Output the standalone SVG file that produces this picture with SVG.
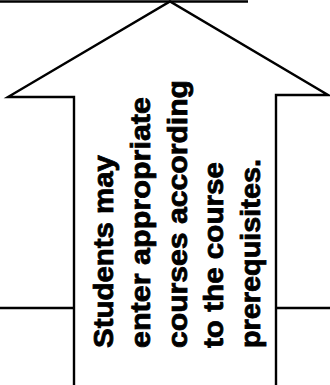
<svg xmlns="http://www.w3.org/2000/svg" width="330" height="385" viewBox="0 0 330 385">
  <style>
    .ln { fill: none; stroke: #000; stroke-width: 2.4; stroke-linejoin: miter; }
    .txt { font-family: "Liberation Sans", Arial, sans-serif; font-weight: bold; font-size: 28.5px; fill: #000; stroke: #000; stroke-width: 0.8; }
  </style>
  <rect x="0" y="0" width="330" height="385" fill="#fff"/>
  <g id="rules">
    <line class="ln" x1="0" y1="1.5" x2="248" y2="1.5"/>
    <line class="ln" x1="0" y1="308" x2="74" y2="308"/>
    <line class="ln" x1="276" y1="308" x2="330" y2="308"/>
  </g>
  <g id="arrow">
    <polyline class="ln" stroke-width="2.8" points="74,386 74,97 8,97 170,1.5 328,95 276,95 276,386"/>
    <g transform="rotate(-90)">
      <text class="txt" x="-348" y="113" textLength="193" lengthAdjust="spacingAndGlyphs">Students may</text>
      <text class="txt" x="-348" y="150" textLength="251" lengthAdjust="spacingAndGlyphs">enter appropriate</text>
      <text class="txt" x="-348" y="187" textLength="268" lengthAdjust="spacingAndGlyphs">courses according</text>
      <text class="txt" x="-348" y="223" textLength="186" lengthAdjust="spacingAndGlyphs">to the course</text>
      <text class="txt" x="-348" y="260" textLength="189" lengthAdjust="spacingAndGlyphs">prerequisites.</text>
    </g>
  </g>
</svg>
